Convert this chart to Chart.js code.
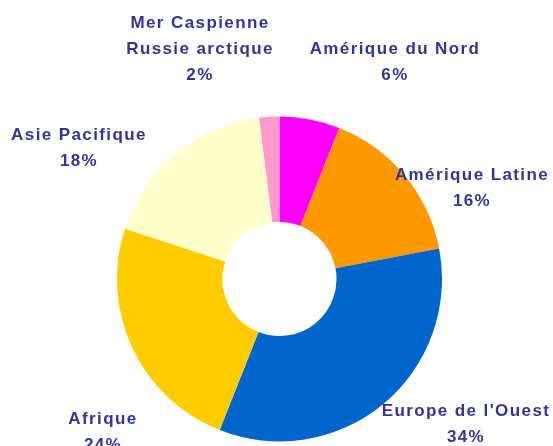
<!DOCTYPE html>
<html>
<head>
<meta charset="utf-8">
<script src="https://cdn.jsdelivr.net/npm/chart.js@4/dist/chart.umd.min.js"></script>
<style>
  html, body { margin: 0; padding: 0; background: #fff; }
  #wrap { width: 553px; height: 446px; position: relative; }
</style>
</head>
<body>
<div id="wrap"><canvas id="chart"></canvas></div>
<script>
const regions = ['Amérique du Nord', 'Amérique Latine', "Europe de l'Ouest", 'Afrique', 'Asie Pacifique', ['Mer Caspienne', 'Russie arctique']];
const shares  = [6, 16, 34, 24, 18, 2];
const colors  = ['#FF00FF', '#FF9900', '#0066CC', '#FFCC00', '#FFFFCC', '#FF99CC'];

// where each label sits (centre x, baseline of first line)
const labelPos = [[395, 54], [472, 180], [466, 416], [103, 424], [79, 140], [200, 28]];

const outsideLabels = {
    id: 'outsideLabels',
    afterDraw(chart) {
        const ctx = chart.ctx;
        ctx.save();
        ctx.font = 'bold 17px "Liberation Sans", Arial, sans-serif';
        ctx.letterSpacing = '1.4px';
        ctx.fillStyle = '#333399';
        ctx.textAlign = 'center';
        ctx.textBaseline = 'alphabetic';
        chart.data.labels.forEach((lab, i) => {
            const lines = [].concat(lab, shares[i] + '%');
            const [x, y] = labelPos[i];
            lines.forEach((t, j) => ctx.fillText(t, x, y + j * 26));
        });
        ctx.restore();
    }
};

new Chart(document.getElementById('chart'), {
    type: 'doughnut',
    data: {
        labels: regions,
        datasets: [{ data: shares, backgroundColor: colors, borderWidth: 0 }]
    },
    options: {
        responsive: true,
        maintainAspectRatio: false,
        animation: false,
        cutout: 57,
        layout: { padding: { left: 117, right: 111, top: 116, bottom: 4 } },
        plugins: { legend: { display: false }, tooltip: { enabled: false } }
    },
    plugins: [outsideLabels]
});
</script>
</body>
</html>
